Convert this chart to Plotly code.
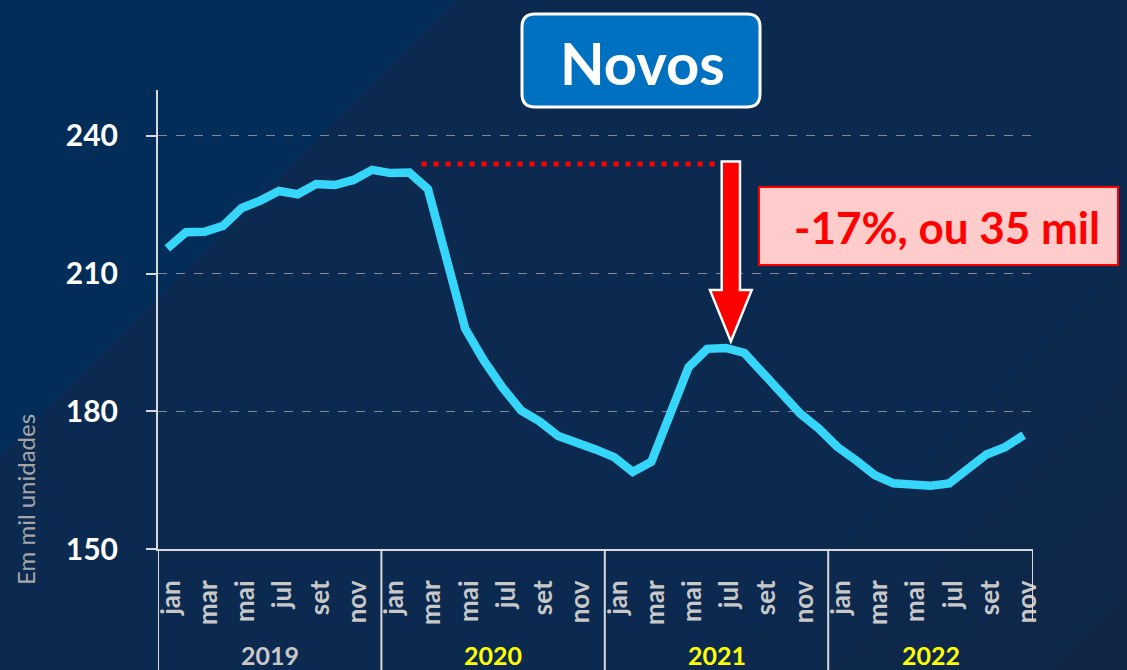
import plotly.graph_objects as go

# ---------------- data ----------------
years = ["2019", "2020", "2021", "2022"]
year_months = [12, 12, 12, 11]
month_names = ["jan", "fev", "mar", "abr", "mai", "jun", "jul", "ago", "set", "out", "nov", "dez"]
label_months = ["jan", "mar", "mai", "jul", "set", "nov"]
year_colors = ["#C8C8C8", "#FFFF00", "#FFFF00", "#FFFF00"]

values = [
    215.5, 219.0, 219.1, 220.4, 224.3, 225.9, 228.0, 227.3, 229.5, 229.3, 230.4, 232.6,   # 2019
    231.9, 232.0, 228.4, 213.0, 198.0, 191.1, 185.2, 180.2, 177.8, 174.6, 173.3, 171.7,   # 2020
    170.0, 166.8, 169.0, 179.7, 189.6, 193.6, 193.8, 192.7, 188.2, 183.5, 179.5, 176.2,   # 2021
    172.2, 169.3, 166.1, 164.3, 164.1, 163.8, 164.3, 167.2, 170.6, 172.2, 174.8,          # 2022
]
y_ticks = [150, 180, 210, 240]
ref_level = 233.9           # pre-pandemic level (dotted reference)
drop_text = "-17%, ou 35 mil"
title_text = "Novos"
y_title = "Em mil unidades"

# ---------------- derived ----------------
labels = []
for y, n in zip(years, year_months):
    labels += [f"{m} {y}" for m in month_names[:n]]
x = list(range(len(values)))
tickvals = [i for i, l in enumerate(labels) if l.split()[0] in label_months]
ticktext = [labels[i].split()[0] for i in tickvals]

W, H = 1127, 670
ML, MR, MT, MB = 158, 94, 90, 121
PW, PH = W - ML - MR, H - MT - MB


def px(xp):
    return (xp - ML) / PW


def py(yp):
    return (H - MB - yp) / PH


FONT = "Lato"
fig = go.Figure()
fig.add_trace(go.Scatter(
    x=x, y=values, mode="lines",
    line=dict(color="#36D6FB", width=8.5),
    hoverinfo="skip", showlegend=False,
))

shapes = []
# background diagonal (lighter top-left triangle)
shapes.append(dict(
    type="path", xref="paper", yref="paper", layer="below",
    path=f"M {px(0)},{py(0)} L {px(456)},{py(0)} L {px(0)},{py(456)} Z",
    fillcolor="#012D58", line=dict(width=0),
))
# subtle gradient toward the bottom-right corner
band_cols = ["#0D2A4E", "#0E284C", "#0F2749", "#102546", "#112343"]
for k, col in enumerate(band_cols):
    d = 700 + k * 110
    shapes.append(dict(
        type="path", xref="paper", yref="paper", layer="below",
        path=f"M {px(d)},{py(H+20)} L {px(W+20)},{py(H+20)} L {px(W+20)},{py(d - (W+20) + H+20)} Z",
        fillcolor=col, line=dict(width=0),
    ))

# year separators below the axis
bounds = [-0.5]
for n in year_months:
    bounds.append(bounds[-1] + n)
for i, b in enumerate(bounds):
    bottom = py(620) if i == len(bounds) - 1 else py(H)
    shapes.append(dict(type="line", xref="x", yref="paper", x0=b, x1=b, y0=0, y1=bottom,
                       line=dict(color="#D9D9D9", width=2)))

# dotted reference line
peak_idx = max(range(24, 36), key=lambda i: values[i])
shapes.append(dict(type="line", xref="x", yref="y", x0=13.66, x1=peak_idx - 0.58,
                   y0=ref_level, y1=ref_level,
                   line=dict(color="#FF0000", width=5, dash="5px,7px")))

# block arrow
ax = peak_idx + 0.27
sw, hw = 0.49, 1.12
yt, yb, yp = ref_level + 0.5, 206.4, values[peak_idx] + 1.4
shapes.append(dict(
    type="path", xref="x", yref="y",
    path=(f"M {ax-sw},{yt} L {ax+sw},{yt} L {ax+sw},{yb} L {ax+hw},{yb} "
          f"L {ax},{yp} L {ax-hw},{yb} L {ax-sw},{yb} Z"),
    fillcolor="#FF0000", line=dict(color="#FFFFFF", width=2.5),
))

# red annotation box
shapes.append(dict(type="rect", xref="paper", yref="paper",
                   x0=px(759), x1=px(1118), y0=py(187), y1=py(265),
                   fillcolor="#FFCCCC", line=dict(color="#FF0000", width=2)))

# title rounded box
x0, x1, y0, y1, r = 522, 760, 14, 107, 13
path = (f"M {px(x0+r)},{py(y0)} L {px(x1-r)},{py(y0)} Q {px(x1)},{py(y0)} {px(x1)},{py(y0+r)} "
        f"L {px(x1)},{py(y1-r)} Q {px(x1)},{py(y1)} {px(x1-r)},{py(y1)} "
        f"L {px(x0+r)},{py(y1)} Q {px(x0)},{py(y1)} {px(x0)},{py(y1-r)} "
        f"L {px(x0)},{py(y0+r)} Q {px(x0)},{py(y0)} {px(x0+r)},{py(y0)} Z")
shapes.append(dict(type="path", xref="paper", yref="paper", path=path,
                   fillcolor="#0070C0", line=dict(color="#FFFFFF", width=3)))

annotations = [
    dict(text=f"<b>{title_text}</b>", xref="paper", yref="paper", x=px(642), y=py(62),
         showarrow=False, font=dict(family=FONT, size=58, color="#FFFFFF"),
         xanchor="center", yanchor="middle"),
    dict(text=f"<b>{drop_text}</b>", xref="paper", yref="paper", x=px(947), y=py(227),
         showarrow=False, font=dict(family=FONT, size=44, color="#FF0000"),
         xanchor="center", yanchor="middle"),
    dict(text=y_title, xref="paper", yref="paper", x=px(25), y=py(500), textangle=-90,
         showarrow=False, font=dict(family=FONT, size=24, color="#A6A6A6"),
         xanchor="center", yanchor="middle"),
]
for i, (yr, col) in enumerate(zip(years, year_colors)):
    cx = (bounds[i] + bounds[i + 1]) / 2
    annotations.append(dict(text=f"<b>{yr}</b>", xref="x", yref="paper", x=cx, y=py(655),
                            showarrow=False, font=dict(family=FONT, size=25, color=col),
                            xanchor="center", yanchor="middle"))

fig.update_layout(
    width=W, height=H,
    margin=dict(l=ML, r=MR, t=MT, b=MB, pad=0),
    paper_bgcolor="#0C2A50", plot_bgcolor="rgba(0,0,0,0)",
    shapes=shapes, annotations=annotations, showlegend=False,
    xaxis=dict(range=[-0.5, len(values) - 0.5], tickvals=tickvals, ticktext=ticktext,
               tickangle=-90, showgrid=False, zeroline=False,
               showline=True, linecolor="#D9D9D9", linewidth=2, ticks="",
               ticklabelstandoff=19, ticklabelshift=4,
               tickfont=dict(family=FONT, size=26, color="#C8C8C8", weight="bold")),
    yaxis=dict(range=[150, 250], tickvals=y_ticks, showgrid=True, gridcolor="#7F8A99",
               griddash="dash", gridwidth=1, zeroline=False,
               showline=True, linecolor="#D9D9D9", linewidth=2,
               ticks="outside", ticklen=10, tickcolor="#D9D9D9", tickwidth=2,
               ticklabelstandoff=22,
               tickfont=dict(family=FONT, size=30, color="#FFFFFF", weight="bold")),
)

fig.write_html("out.html", config={"displayModeBar": False},
               post_script="document.body.style.margin='0';document.body.style.overflow='hidden';")
